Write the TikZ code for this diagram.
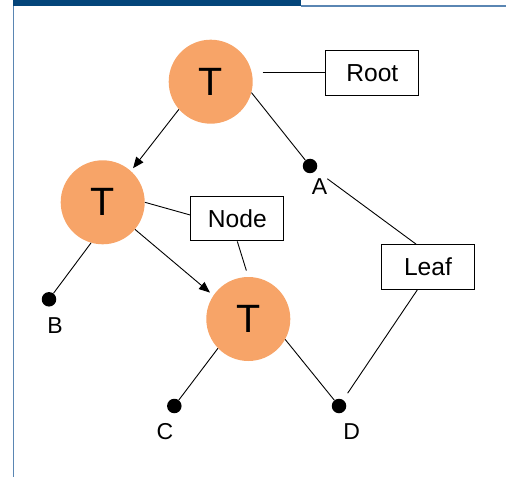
\documentclass[tikz,border=0pt]{standalone}
\usepackage{fontspec}
\setmainfont{Liberation Sans}
\usetikzlibrary{arrows.meta}
\definecolor{tnodefill}{HTML}{F7A468}
\definecolor{barblue}{HTML}{04457A}
\definecolor{lineblue}{HTML}{5A86B3}
\begin{document}
\begin{tikzpicture}[x=1bp,y=-1bp,
  tnode/.style={circle, fill=tnodefill, minimum size=84bp, inner sep=0pt,
    font=\fontsize{39.5bp}{40bp}\selectfont},
  lbox/.style={draw, line width=1.2bp, minimum width=93bp, minimum height=44.6bp,
    inner sep=0pt, font=\fontsize{24.6bp}{26bp}\selectfont},
  leafdot/.style={circle, fill=black, minimum size=14.5bp, inner sep=0pt},
  ltext/.style={inner sep=0pt, font=\fontsize{23bp}{24bp}\selectfont},
  conn/.style={line width=0.9bp},
  arr/.style={conn, -{Triangle[length=11bp,width=9bp]}}]
\useasboundingbox (0,0) rectangle (506,477);
% frame
\fill[barblue] (13,0) rectangle (301,6.5);
\draw[lineblue, line width=1.2bp] (301,6) -- (506,6);
\draw[lineblue, line width=1bp] (13.3,6) -- (13.3,477);
% tree nodes
\node[tnode] (root) at (210.7,81.7) {T};
\node[tnode] (N) at (102.7,202.3) {T};
\node[tnode] (M) at (248.3,319) {T};
% labels boxes
\node[lbox] (rootbox) at (372.3,73) {Root};
\node[lbox] (nodebox) at (237.3,218.5) {Node};
\node[lbox] (leafbox) at (428,267) {Leaf};
% leaves
\node[leafdot] (A) at (310,166) {};
\node[leafdot] (B) at (49,299.3) {};
\node[leafdot] (C) at (174.3,406) {};
\node[leafdot] (D) at (339,406) {};
\node[ltext] (la) at (319.5,186.2) {A};
\node[ltext] (lb) at (55,325.5) {B};
\node[ltext] (lc) at (165,431.5) {C};
\node[ltext] (ld) at (351.7,431.5) {D};
% connectors
\coordinate (rootlink) at (262.7,72);
\draw[conn] (rootlink) -- (rootlink -| rootbox.west);
\draw[arr, shorten >=3.5bp] (root.221) -- (N.48);
\draw[arr, shorten >=4.4bp] (N.320) -- (M.146);
\draw[conn] (N.east) -- ([yshift=3.5bp]nodebox.west);
\draw[conn, shorten >=6.5bp] (nodebox.south) -- (M.north);
\draw[conn] (N.254) -- (B);
\draw[conn] (M.224) -- (C);
\draw[conn] (M.331) -- (D);
\draw[conn] (root.345) -- (A);
\draw[conn, shorten <=14bp] (A) -- ([xshift=-12bp]leafbox.north);
\draw[conn, shorten >=8bp] ([xshift=-10.7bp]leafbox.south) -- (D);
\end{tikzpicture}
\end{document}
